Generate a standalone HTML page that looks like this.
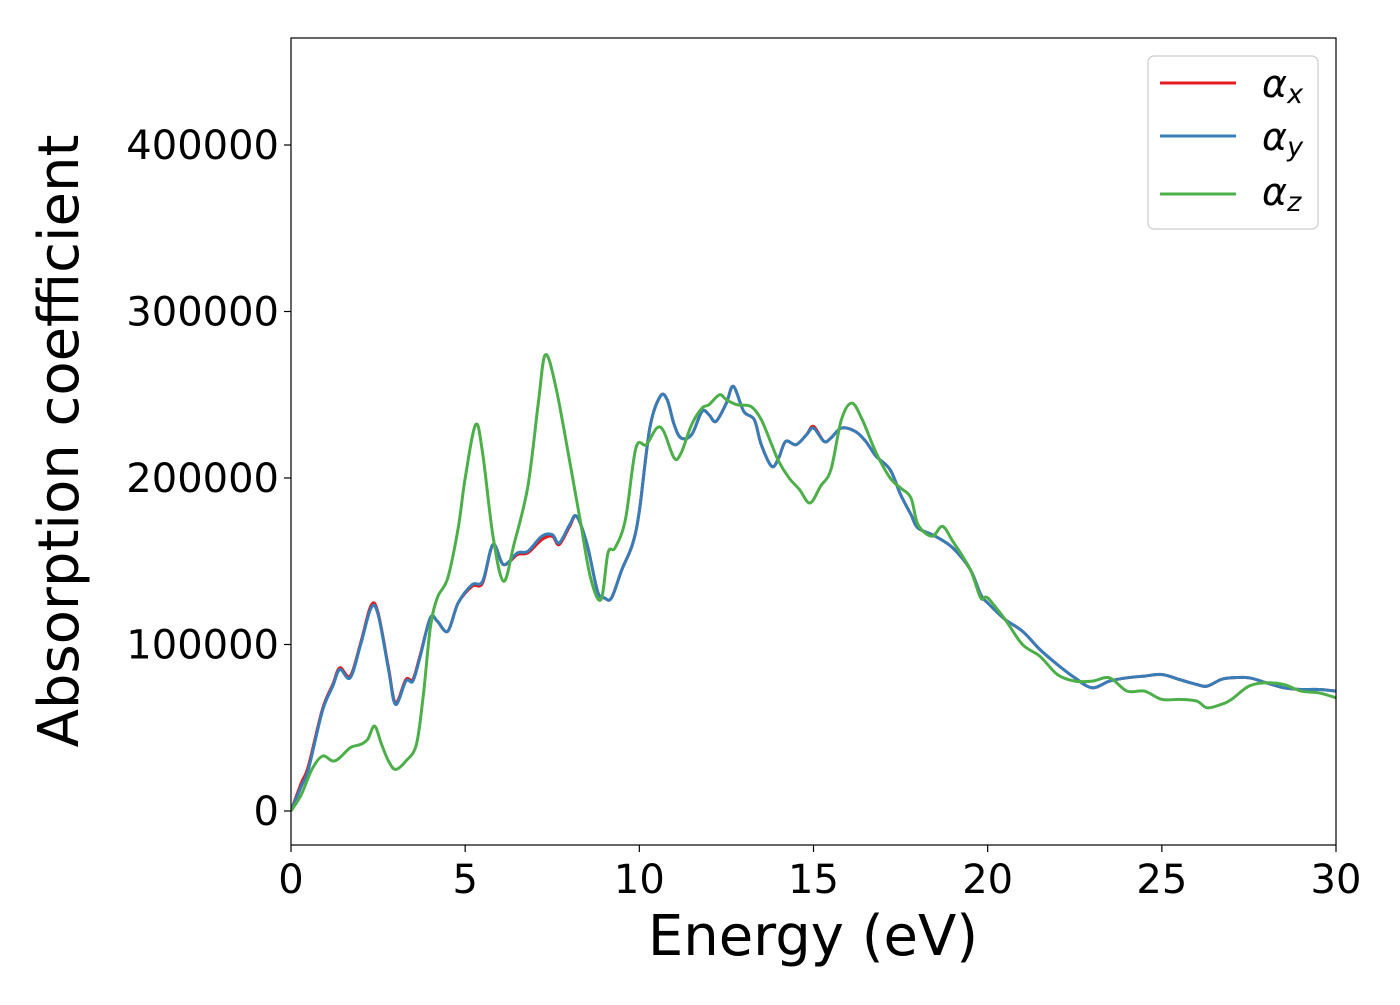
<!DOCTYPE html>
<html><head><meta charset="utf-8"><style>
html,body{margin:0;padding:0;background:#fff;}
svg text{font-family:"DejaVu Sans","Liberation Sans",sans-serif;}
</style></head><body>
<svg id="chart" width="1400" height="1000" viewBox="0 0 1400 1000" xmlns="http://www.w3.org/2000/svg">
<rect width="1400" height="1000" fill="#fff"/>
<g id="series"></g>
<rect x="291" y="38" width="1045" height="807" fill="none" stroke="#000" stroke-width="1.2"/>
<g id="xticks"></g>
<g id="yticks"></g>
<text x="813" y="955" font-size="56" text-anchor="middle">Energy (eV)</text>
<text transform="translate(78,441) rotate(-90)" font-size="56" text-anchor="middle">Absorption coefficient</text>
<g>
<rect x="1148" y="56" width="170" height="173" rx="6" fill="#fff" stroke="#ccc" stroke-width="1.2"/>
<g><line x1="1160" y1="83" x2="1236" y2="83" stroke="#e41a1c" stroke-width="3"/><text x="1262" y="97" font-size="38" font-style="italic">α<tspan font-size="27" dy="6">x</tspan></text></g>
<g><line x1="1160" y1="136" x2="1236" y2="136" stroke="#377eb8" stroke-width="3"/><text x="1262" y="150" font-size="38" font-style="italic">α<tspan font-size="27" dy="6">y</tspan></text></g>
<g><line x1="1160" y1="194" x2="1236" y2="194" stroke="#4daf4a" stroke-width="3"/><text x="1262" y="205" font-size="38" font-style="italic">α<tspan font-size="27" dy="6">z</tspan></text></g>
</g>
</svg>
<script>
const xTicks=[0,5,10,15,20,25,30];
const yTicks=[0,100000,200000,300000,400000];
const energyXY=[0,0.3,0.5,0.9,1.2,1.4,1.7,2.0,2.3,2.5,2.8,3.0,3.3,3.5,3.7,4.0,4.2,4.5,4.8,5.2,5.5,5.8,6.1,6.5,6.8,7.2,7.5,7.7,8.0,8.2,8.5,8.8,9.0,9.2,9.5,9.8,10.0,10.3,10.6,10.8,11.0,11.2,11.5,11.8,12.0,12.2,12.5,12.7,13.0,13.3,13.5,13.8,14.0,14.2,14.5,14.8,15.0,15.3,15.5,15.8,16.2,16.5,16.8,17.2,17.5,17.8,18.0,18.5,19.0,19.5,19.8,20.0,20.5,21.0,21.5,22.0,22.5,23.0,23.5,24.0,24.5,25.0,25.5,26.0,26.3,26.7,27.0,27.5,28.0,28.5,29.0,29.5,30];
const alphaY=[0,15000,25000,60000,75000,85000,80000,100000,122000,118000,85000,64000,78000,78000,92000,116000,114000,108000,125000,136000,138000,160000,148000,155000,156000,165000,166000,161000,172000,177000,160000,132000,128000,128000,145000,160000,180000,230000,249000,247000,232000,224000,226000,240000,238000,234000,245000,255000,240000,235000,220000,207000,212000,222000,220000,226000,230000,222000,224000,230000,228000,222000,213000,205000,190000,178000,170000,165000,158000,145000,130000,125000,115000,108000,97000,88000,80000,74000,78000,80000,81000,82000,79000,76000,75000,79000,80000,80000,77000,74000,73000,73000,72000];
const alphaX=[0,17000,27000,61000,76000,86000,81000,101000,123500,119000,86000,65000,79000,79000,93000,116000,114000,108000,125000,135000,137000,160000,148000,154000,155000,163000,165000,160000,171000,177000,160000,132000,128000,128000,145000,160000,180000,230000,249000,247000,232000,224000,226000,240000,238000,234000,245000,255000,240000,235000,220000,207000,212000,222000,220000,226000,231000,222000,224000,230000,228000,222000,213000,205000,190000,178000,170000,165000,158000,145000,130000,125000,115000,108000,97000,88000,80000,74000,78000,80000,81000,82000,79000,76000,75000,79000,80000,80000,77000,74000,73000,73000,72000];
const energyZ=[0,0.3,0.6,0.9,1.2,1.4,1.7,2.0,2.2,2.4,2.6,2.8,3.0,3.3,3.6,3.8,4.0,4.2,4.5,4.8,5.0,5.3,5.5,5.8,6.1,6.4,6.8,7.1,7.3,7.6,8.0,8.3,8.6,8.9,9.1,9.3,9.6,9.9,10.2,10.5,10.7,11.0,11.2,11.5,11.8,12.0,12.3,12.5,12.8,13.2,13.5,13.8,14.0,14.3,14.6,14.9,15.2,15.5,15.8,16.1,16.4,16.8,17.2,17.5,17.8,18.0,18.4,18.7,19.0,19.5,19.8,20.0,20.5,21.0,21.5,22.0,22.5,23.0,23.5,24.0,24.5,25.0,25.5,26.0,26.3,26.7,27.0,27.5,28.0,28.5,29.0,29.5,30];
const alphaZ=[0,10000,25000,33000,30000,32000,38000,40000,43000,51000,40000,30000,25000,30000,40000,70000,110000,128000,140000,170000,200000,232000,215000,165000,138000,160000,195000,245000,274000,255000,210000,175000,140000,127000,155000,158000,175000,218000,220000,230000,228000,212000,215000,232000,242000,244000,250000,247000,244000,243000,235000,220000,210000,200000,193000,185000,195000,205000,235000,245000,235000,215000,200000,194000,188000,172000,165000,171000,162000,145000,128000,128000,115000,100000,93000,82000,78000,78000,80000,72000,72000,67000,67000,66000,62000,64000,67000,75000,77000,76000,72000,71000,68000];
const X0=291,X1=1336,Y0=811,YS=666/400000;
const sx=v=>X0+(v-0)*(X1-X0)/30;
const sy=v=>Y0-v*YS;
const NS="http://www.w3.org/2000/svg";
function mk(tag,attrs,parent){const e=document.createElementNS(NS,tag);for(const k in attrs)e.setAttribute(k,attrs[k]);parent.appendChild(e);return e;}
function pathD(xs,ys){
  const p=xs.map((x,i)=>[sx(x),sy(ys[i])]);
  let d="M"+p[0][0].toFixed(1)+","+p[0][1].toFixed(1);
  for(let i=0;i<p.length-1;i++){
    const a=p[Math.max(0,i-1)],b=p[i],c=p[i+1],e=p[Math.min(p.length-1,i+2)];
    const c1x=b[0]+(c[0]-a[0])/6,c1y=b[1]+(c[1]-a[1])/6,c2x=c[0]-(e[0]-b[0])/6,c2y=c[1]-(e[1]-b[1])/6;
    d+=" C"+c1x.toFixed(1)+","+c1y.toFixed(1)+" "+c2x.toFixed(1)+","+c2y.toFixed(1)+" "+c[0].toFixed(1)+","+c[1].toFixed(1);
  }
  return d;
}
const sg=document.getElementById("series");
const defs=mk("clipPath",{id:"clip"},sg);mk("rect",{x:X0,y:38,width:X1-X0,height:807},defs);
const lx=mk("path",{d:pathD(energyXY,alphaX),fill:"none",stroke:"#e41a1c","stroke-width":3,"clip-path":"url(#clip)"},sg);


const ly=mk("path",{d:pathD(energyXY,alphaY),fill:"none",stroke:"#377eb8","stroke-width":3,"clip-path":"url(#clip)"},sg);


const lz=mk("path",{d:pathD(energyZ,alphaZ),fill:"none",stroke:"#4daf4a","stroke-width":3,"clip-path":"url(#clip)"},sg);


const xg=document.getElementById("xticks");
xTicks.forEach(t=>{
  const g=mk("g",{},xg);
  
  
  mk("line",{x1:sx(t),x2:sx(t),y1:845,y2:852,stroke:"#000","stroke-width":1.2},g);
  const tx=mk("text",{x:sx(t),y:893,"font-size":40,"text-anchor":"middle"},g);tx.textContent=t;
});
const yg=document.getElementById("yticks");
yTicks.forEach(t=>{
  const g=mk("g",{},yg);
  
  
  mk("line",{x1:284,x2:291,y1:sy(t),y2:sy(t),stroke:"#000","stroke-width":1.2},g);
  const tx=mk("text",{x:279,y:sy(t)+14,"font-size":40,"text-anchor":"end"},g);tx.textContent=t;
});
</script>
</body></html>
